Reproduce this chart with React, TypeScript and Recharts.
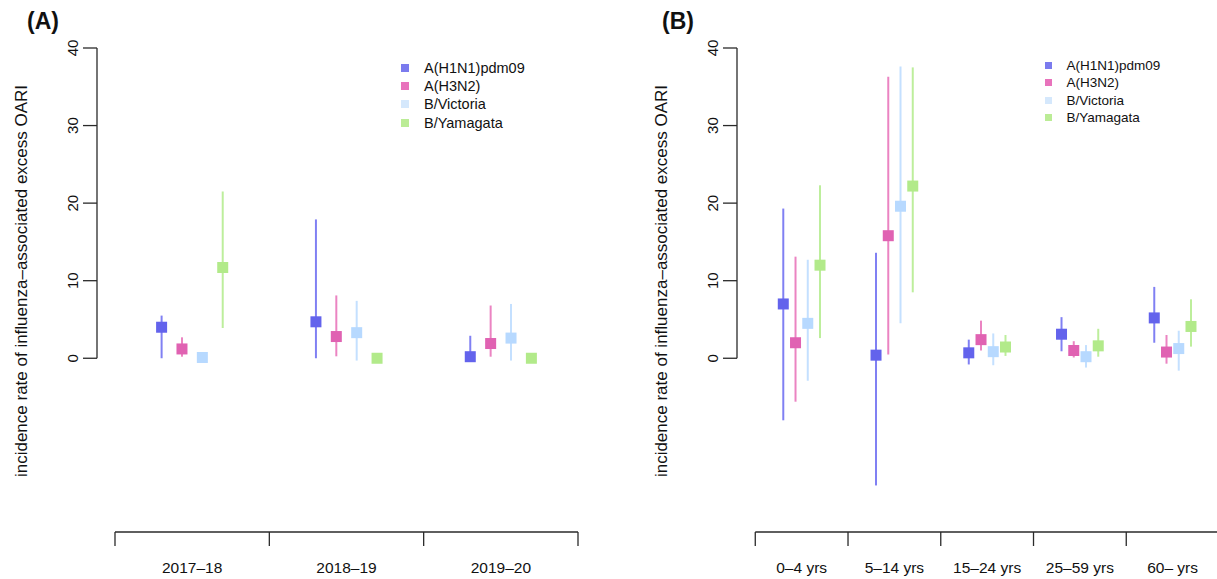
import React from 'react';
import { ComposedChart, Scatter, XAxis, YAxis, ErrorBar, ReferenceLine } from 'recharts';

const seriesNames = ['A(H1N1)pdm09', 'A(H3N2)', 'B/Victoria', 'B/Yamagata'];
const pointColors = ['#6363ec', '#e062b2', '#b7d9ff', '#b2ea8a'];
const lineColors = ['#8080f3', '#eb84c2', '#c4e0ff', '#bdee9c'];
const legendColors = ['#7b7bee', '#e873bc', '#d5e8fc', '#bbec96'];

const yTicks = [0, 10, 20, 30, 40];
const yMin = -22.4;
const yMax = 40;
const dodge = 0.132;

// panel A: by season
const seasons = ['2017–18', '2018–19', '2019–20'];
const seasonEst = [
  [4.0, 4.7, 0.2],
  [1.2, 2.8, 1.9],
  [0.1, 3.3, 2.6],
  [11.7, 0.0, 0.0],
];
const seasonLow = [
  [0.0, 0.0, 0.0],
  [0.2, 0.25, 0.2],
  [0.05, -0.3, -0.3],
  [3.9, 0.0, 0.0],
];
const seasonHigh = [
  [5.5, 17.9, 2.9],
  [2.7, 8.1, 6.8],
  [0.15, 7.4, 7.0],
  [21.5, 0.0, 0.0],
];

// panel B: by age group
const ageGroups = ['0–4 yrs', '5–14 yrs', '15–24 yrs', '25–59 yrs', '60– yrs'];
const ageEst = [
  [7.0, 0.4, 0.7, 3.1, 5.2],
  [2.0, 15.8, 2.4, 1.0, 0.8],
  [4.5, 19.6, 0.85, 0.2, 1.25],
  [12.0, 22.2, 1.45, 1.6, 4.1],
];
const ageLow = [
  [-8.0, -16.4, -0.8, 0.9, 2.0],
  [-5.6, 0.5, 1.0, 0.1, -0.7],
  [-2.9, 4.5, -0.9, -1.2, -1.6],
  [2.6, 8.5, 0.3, 0.2, 1.5],
];
const ageHigh = [
  [19.3, 13.6, 2.4, 5.3, 9.2],
  [13.1, 36.3, 4.85, 2.2, 3.0],
  [12.7, 37.6, 3.2, 1.7, 3.55],
  [22.3, 37.5, 3.0, 3.8, 7.6],
];

const font = '"Liberation Sans", Arial, Helvetica, sans-serif';
const axisColor = '#2a2a2a';

const buildSeries = (est: number[][], low: number[][], high: number[][], s: number) =>
  est[s].map((v, i) => ({
    x: i + 0.5 + (s - 1.5) * dodge,
    y: v,
    err: [v - low[s][i], high[s][i] - v],
  }));

const renderXTick = (p: any, cats: string[]) => {
  const v = p.payload.value;
  if (Number.isInteger(v)) {
    return <line x1={p.x} x2={p.x} y1={p.y - 14} y2={p.y} stroke={axisColor} strokeWidth={1.3} />;
  }
  return (
    <text x={p.x} y={p.y + 27} textAnchor="middle" fontSize={15.5} fontFamily={font} fill="#111">
      {cats[Math.floor(v)]}
    </text>
  );
};

const renderYTick = (p: any) => (
  <text
    x={p.x}
    y={p.y}
    transform={`rotate(-90, ${p.x}, ${p.y})`}
    textAnchor="middle"
    fontSize={15}
    fontFamily={font}
    fill="#111"
  >
    {p.payload.value}
  </text>
);

type PanelProps = {
  cats: string[];
  est: number[][];
  low: number[][];
  high: number[][];
  xMin: number;
  width: number;
  right: number;
};

const Panel = ({ cats, est, low, high, xMin, width, right }: PanelProps) => {
  const n = cats.length;
  const halfTicks: number[] = [];
  for (let i = 0; i <= n * 2; i++) halfTicks.push(i / 2);
  return (
    <ComposedChart width={width} height={579} margin={{ top: 48, right, bottom: 0, left: 0 }}>
      <XAxis
        type="number"
        dataKey="x"
        domain={[xMin, n]}
        allowDataOverflow
        ticks={halfTicks}
        interval={0}
        tickLine={false}
        axisLine={false}
        tickSize={14}
        tickMargin={0}
        height={47}
        tick={(p: any) => renderXTick(p, cats)}
      />
      <YAxis
        type="number"
        dataKey="y"
        domain={[yMin, yMax]}
        allowDataOverflow
        ticks={yTicks}
        interval={0}
        width={97}
        axisLine={false}
        tickLine={{ stroke: axisColor, strokeWidth: 1.3 }}
        tickSize={14}
        tickMargin={5}
        tick={renderYTick}
      />
      <ReferenceLine
        segment={[{ x: 0, y: yMin }, { x: n, y: yMin }]}
        stroke={axisColor}
        strokeWidth={1.3}
        ifOverflow="visible"
      />
      <ReferenceLine
        segment={[{ x: xMin, y: 0 }, { x: xMin, y: yMax }]}
        stroke={axisColor}
        strokeWidth={1.3}
        ifOverflow="visible"
      />
      {seriesNames.map((name, s) => (
        <Scatter
          key={name}
          name={name}
          data={buildSeries(est, low, high, s)}
          isAnimationActive={false}
          shape={(p: any) => (
            <rect x={p.cx - 5.5} y={p.cy - 5.5} width={11} height={11} fill={pointColors[s]} />
          )}
        >
          <ErrorBar
            dataKey="err"
            direction="y"
            width={0}
            stroke={lineColors[s]}
            strokeWidth={2}
            isAnimationActive={false}
          />
        </Scatter>
      ))}
    </ComposedChart>
  );
};

const Legend = ({ left, top, size, rowH, fontSize }: any) => (
  <div style={{ position: 'absolute', left, top, fontFamily: font, fontSize, color: '#111' }}>
    {seriesNames.map((name, i) => (
      <div key={name} style={{ display: 'flex', alignItems: 'center', height: rowH }}>
        <span style={{ width: size, height: size, background: legendColors[i], marginRight: 15 }} />
        {name}
      </div>
    ))}
  </div>
);

const yLabel = 'incidence rate of influenza–associated excess OARI';

export default function App() {
  return (
    <div style={{ position: 'absolute', left: 0, top: 0, width: 1217, height: 579, overflow: 'hidden', background: '#fff' }}>
      <div style={{ position: 'absolute', left: 0, top: 0 }}>
        <Panel cats={seasons} est={seasonEst} low={seasonLow} high={seasonHigh} xMin={-0.1166} width={620} right={42} />
      </div>
      <div style={{ position: 'absolute', left: 640, top: 0 }}>
        <Panel cats={ageGroups} est={ageEst} low={ageLow} high={ageHigh} xMin={-0.197} width={590} right={11} />
      </div>
      <svg width={1217} height={579} style={{ position: 'absolute', left: 0, top: 0, pointerEvents: 'none' }}>
        <text x={27} y={29} fontSize={23} fontWeight="bold" fontFamily={font} fill="#111">(A)</text>
        <text x={662} y={29} fontSize={23} fontWeight="bold" fontFamily={font} fill="#111">(B)</text>
        <text x={26.5} y={281} transform="rotate(-90, 26.5, 281)" textAnchor="middle" fontSize={17} fontFamily={font} fill="#111">
          {yLabel}
        </text>
        <text x={666.5} y={281} transform="rotate(-90, 666.5, 281)" textAnchor="middle" fontSize={17} fontFamily={font} fill="#111">
          {yLabel}
        </text>
      </svg>
      <Legend left={401} top={58.5} size={8} rowH={18.3} fontSize={14.5} />
      <Legend left={1044.5} top={56.25} size={7} rowH={17.5} fontSize={13.5} />
    </div>
  );
}
